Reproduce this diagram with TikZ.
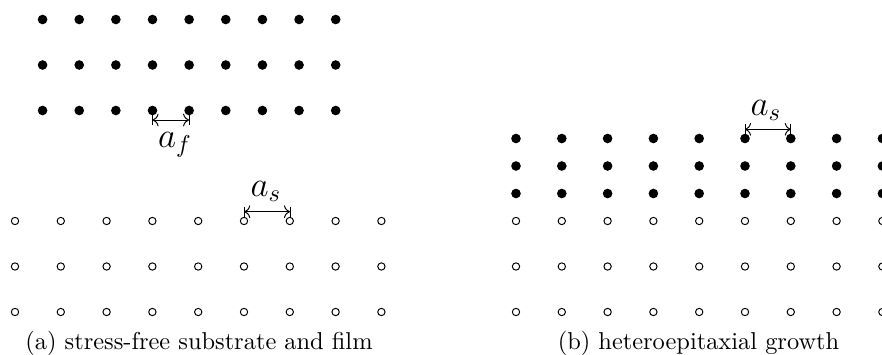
\documentclass[tikz,border=0pt]{standalone}
\usetikzlibrary{arrows.meta}
\begin{document}
\begin{tikzpicture}[x=0.4098pt,y=-0.4098pt,
  filmdot/.style={fill=black},
  subdot/.style={draw=black,line width=0.4pt,fill=white},
  dimarrow/.style={line width=0.4pt,{Computer Modern Rightarrow[]}-{Computer Modern Rightarrow[]}},
  dimtick/.style={line width=0.4pt},
  dimlabel/.style={font=\fontsize{14}{16}\selectfont,inner sep=0pt,anchor=base},
  caption/.style={inner sep=0pt,anchor=base}]
\useasboundingbox (0,0) rectangle (882,354);
\clip (0,0) rectangle (882,354);
% (a) film lattice
\foreach \k in {0,...,8}
  \foreach \y in {19.5,65,110.5}
    \fill[filmdot] ({152.5+36.64*(\k-3)},\y) circle[radius=1.97pt];
% (a) substrate lattice
\foreach \k in {0,...,8}
  \foreach \y in {221,266.5,312}
    \draw[subdot] ({15+45.8*\k},\y) circle[radius=1.5pt];
% (b) substrate lattice
\foreach \k in {0,...,8}
  \foreach \y in {221,266.5,312}
    \draw[subdot] ({516+45.8*\k},\y) circle[radius=1.5pt];
% (b) strained film
\foreach \k in {0,...,8}
  \foreach \y in {193.5,166,138.5}
    \fill[filmdot] ({516+45.8*\k},\y) circle[radius=1.97pt];
% a_f
\coordinate (af1) at (152.5,120);
\coordinate (af2) at (189.1,120);
\draw[dimarrow] (af1) -- (af2);
\draw[dimtick] ([yshift=2pt]af1) -- ([yshift=-2pt]af1);
\draw[dimtick] ([yshift=2pt]af2) -- ([yshift=-2pt]af2);
\node[dimlabel] (laf) at (175,147) {$a_f$};
% a_s (a)
\coordinate (as1) at (244.2,211.7);
\coordinate (as2) at (290,211.7);
\draw[dimarrow] (as1) -- (as2);
\draw[dimtick] ([yshift=2pt]as1) -- ([yshift=-2pt]as1);
\draw[dimtick] ([yshift=2pt]as2) -- ([yshift=-2pt]as2);
\node[dimlabel] (las) at (266,196.7) {$a_s$};
% a_s (b)
\coordinate (bs1) at (745,129.3);
\coordinate (bs2) at (790.8,129.3);
\draw[dimarrow] (bs1) -- (bs2);
\draw[dimtick] ([yshift=2pt]bs1) -- ([yshift=-2pt]bs1);
\draw[dimtick] ([yshift=2pt]bs2) -- ([yshift=-2pt]bs2);
\node[dimlabel] (lbs) at (766,115) {$a_s$};
% captions
\node[caption] (capa) at (199,349.5) {(a) stress-free substrate and film};
\node[caption] (capb) at (698.5,349.5) {(b) heteroepitaxial growth};
\end{tikzpicture}
\end{document}
